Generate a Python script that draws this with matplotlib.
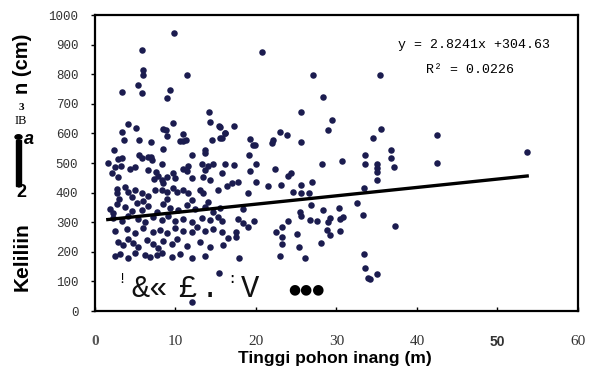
import matplotlib
matplotlib.use("Agg")
import matplotlib.pyplot as plt
from matplotlib.patches import Rectangle, Circle

# tinggi pohon inang (m) vs keliling (cm)
tinggi = [
    9.8, 5.8, 20.7, 6.0, 6.0, 11.4, 27.1, 35.4, 3.4, 5.3, 5.8, 9.3, 8.9, 28.3, 25.6, 14.2,
    29.4, 29.0, 14.3, 15.4, 17.3, 16.2, 4.1, 3.4, 5.1, 3.6, 5.5, 7.0, 8.5, 8.8, 8.9, 9.7,
    8.4, 10.9, 11.0, 10.6, 11.3, 14.5, 15.5, 12.0, 13.7, 13.7, 19.3, 19.6, 19.9, 22.1, 22.0,
    23.0, 23.8, 25.6, 19.1, 2.4, 3.4, 5.5, 7.0, 15.5, 16.1, 15.8, 35.5, 34.5, 42.5, 42.5,
    53.7, 36.8, 36.8, 37.1, 35.0, 35.0, 35.0, 35.0, 33.5, 33.5, 30.7, 28.2, 20.0, 19.3, 22.4,
    24.0, 24.3, 16.1, 17.3, 15.8, 20.0, 21.5, 23.1, 25.6, 27.0, 24.6, 25.6, 26.6, 33.4, 16.4,
    17.0, 17.8, 19.0,
    5.8, 6.6, 7.1, 1.6, 2.9, 3.2, 2.5, 5.0, 4.3, 8.3, 6.6, 11.0, 11.6, 11.4, 13.3, 14.0, 13.7,
    14.7, 2.1, 2.9, 7.6, 7.8, 7.3, 8.3, 8.9, 8.4, 9.7, 9.9, 12.0, 13.4, 14.3, 2.7, 2.7, 3.7,
    4.1, 5.0, 4.6, 5.8, 6.6, 7.5, 8.3, 8.9, 9.7, 10.2, 10.9, 11.6, 13.0, 13.4, 15.3,
    1.9, 2.2, 2.7, 3.7, 4.6, 5.2, 5.8, 6.6, 7.7, 8.4, 9.3, 10.3, 11.4, 12.4, 13.7, 14.7, 15.5,
    3.0, 6.0, 9.0, 12.0, 14.0,
    2.2, 3.4, 4.1, 5.3, 6.2, 7.2, 8.3, 9.1, 9.9, 10.9, 12.0, 13.3, 14.3, 15.3,
    2.5, 4.0, 5.0, 6.0, 7.2, 8.1, 8.9, 9.9, 10.9, 12.0, 12.7, 13.7, 14.7,
    2.9, 3.5, 4.1, 4.7, 5.3, 6.5, 7.2, 7.8, 8.4, 9.6, 10.2, 11.4, 13.0, 14.3,
    2.5, 3.1, 4.1, 5.0, 6.2, 6.8, 7.7, 8.3, 9.6, 10.6, 12.0, 13.7,
    15.4, 12.0,
    18.4, 17.8, 18.4, 19.0, 19.8, 15.8, 15.8, 16.5, 17.5, 17.5, 15.9, 17.9, 26.8, 28.3, 30.3,
    32.5, 25.5, 25.6, 24.0, 26.7, 27.6, 29.2, 28.9, 30.8, 30.4, 33.3, 23.2, 22.5, 23.2, 23.2,
    25.1, 28.8, 29.2, 30.4, 28.1, 25.3, 23.0, 26.1, 33.4, 33.5, 33.9, 37.3, 34.2, 35.0,
]
keliling = [
    939, 882, 875, 814, 797, 797, 797, 797, 740, 764, 736, 747, 720, 723, 672, 672,
    645, 611, 638, 625, 625, 601, 632, 605, 618, 578, 578, 571, 615, 611, 591, 635,
    547, 598, 574, 574, 578, 578, 584, 527, 534, 544, 581, 561, 561, 578, 568,
    605, 594, 571, 527, 544, 517, 527, 520, 622, 601, 584, 614, 584, 595, 500,
    537, 544, 517, 487, 497, 483, 470, 443, 527, 497, 507, 497, 497, 473, 480,
    456, 466, 497, 493, 466, 436, 422, 426, 426, 436, 402, 399, 399, 416, 422,
    432, 436, 399,
    517, 520, 510, 500, 514, 490, 486, 486, 480, 497, 476, 480, 490, 473, 497, 490, 476,
    497, 466, 453, 470, 456, 446, 443, 453, 432, 466, 449, 449, 453, 443, 412, 399, 419,
    402, 409, 385, 399, 388, 409, 409, 402, 416, 402, 409, 399, 409, 399, 409,
    345, 332, 360, 350, 338, 365, 342, 355, 335, 362, 348, 340, 358, 344, 352, 336, 347,
    378, 372, 380, 375, 370,
    315, 305, 320, 310, 300, 318, 308, 322, 303, 312, 300, 316, 306, 319,
    270, 278, 265, 282, 268, 275, 263, 280, 272, 266, 284, 270, 277,
    235, 222, 245, 230, 215, 240, 226, 213, 238, 228, 244, 220, 233, 218,
    185, 192, 180, 195, 188, 182, 190, 196, 184, 192, 180, 187,
    128, 30,
    345, 311, 297, 284, 304, 304, 267, 247, 267, 250, 223, 179, 358, 341, 348,
    365, 334, 321, 304, 307, 304, 314, 301, 318, 311, 324, 284, 267, 250, 226,
    260, 274, 257, 270, 230, 216, 186, 179, 193, 145, 111, 287, 108, 125,
]

slope = 2.8241
intercept = 304.63
garis_x = [min(tinggi), max(tinggi)]

yticks = list(range(0, 1001, 100))
xticks = [0, 10, 20, 30, 40, 50, 60]

fig = plt.figure(figsize=(5.97, 3.85), dpi=100)
ax = fig.add_axes([0.159, 0.192, 0.809, 0.769])

ax.scatter(tinggi, keliling, s=22, color="#1b1c4f", zorder=3, linewidths=0)
ax.plot(garis_x, [slope * v + intercept for v in garis_x], color="black", lw=2.4, zorder=4)

ax.set_xlim(0, 60)
ax.set_ylim(0, 1000)
for s in ax.spines.values():
    s.set_linewidth(1.6)

ax.set_yticks(yticks)
ax.set_yticklabels([str(v) for v in yticks], family="Liberation Mono", fontsize=9, color="#333333")
ax.tick_params(axis="y", direction="out", length=3, width=1, pad=9)
ax.set_xticks(xticks)
ax.set_xticklabels([str(v) for v in xticks], fontsize=11, family="Liberation Serif", color="#333333")
ax.tick_params(axis="x", direction="in", length=3, width=1, pad=17)
for lab in ax.get_xticklabels():
    if lab.get_text() == "50":
        lab.set_family("Liberation Sans")
        lab.set_fontweight("bold")
        lab.set_fontsize(10)
    if lab.get_text() == "0":
        lab.set_fontweight("bold")
        lab.set_color("#555555")

# regression text
ax.text(37.6, 899, "y = 2.8241x +304.63", family="Liberation Mono", fontsize=9.5, va="center", ha="left")
ax.text(46.6, 814, "R\u00b2 = 0.0226", family="Liberation Mono", fontsize=9.5, va="center", ha="center")

# garbled scan text near the bottom
mono = dict(family="Liberation Mono", fontsize=22, va="baseline", ha="center", color="#111111")
ax.text(3.4, 105, "!", family="Liberation Serif", fontsize=11, ha="center", va="center")
ax.text(5.6, 47, "&", **mono)
ax.text(7.8, 47, "\u00ab", **mono)
ax.text(11.5, 47, "\u00a3", **mono)
ax.text(14.3, 47, ".", **mono)
ax.text(17.0, 110, ":", family="Liberation Mono", fontsize=11, ha="center", va="center")
ax.text(19.3, 47, "V", **mono)
ax.text(26.3, 72, "\u25cf\u25cf\u25cf", family="DejaVu Sans", fontsize=10, ha="center", va="center")

fig.text(0.561, 0.07, "Tinggi pohon inang (m)", family="Liberation Sans", fontweight="bold",
         fontsize=12.5, ha="center", va="center")

# y label, as garbled in the scan
fig.text(22 / 597, 1 - 64 / 385, "n (cm)", family="Liberation Sans", fontweight="bold",
         fontsize=14.5, rotation=90, ha="center", va="center")
fig.text(21 / 597, 1 - 108 / 385, "3", family="Liberation Serif", fontweight="bold",
         fontsize=8, ha="center", va="center")
fig.text(21 / 597, 1 - 121 / 385, "IB", family="Liberation Serif", fontsize=9,
         ha="center", va="center")
fig.patches.append(Rectangle((16 / 597, 1 - 186 / 385), 5 / 597, 46 / 385,
                             transform=fig.transFigure, color="black"))
fig.patches.append(Circle((18.5 / 597, 1 - 137 / 385), 3.5 / 597,
                          transform=fig.transFigure, color="black"))
fig.text(29 / 597, 1 - 140 / 385, "a", family="Liberation Sans", fontweight="bold",
         style="italic", fontsize=13, ha="center", va="center")
fig.text(21 / 597, 1 - 193 / 385, "2", family="Liberation Sans", fontweight="bold",
         fontsize=13, ha="center", va="center")
fig.text(22 / 597, 1 - 257 / 385, "Keliliin", family="Liberation Sans", fontweight="bold",
         fontsize=15, rotation=90, ha="center", va="center")

fig.savefig("out.png", dpi=100)
